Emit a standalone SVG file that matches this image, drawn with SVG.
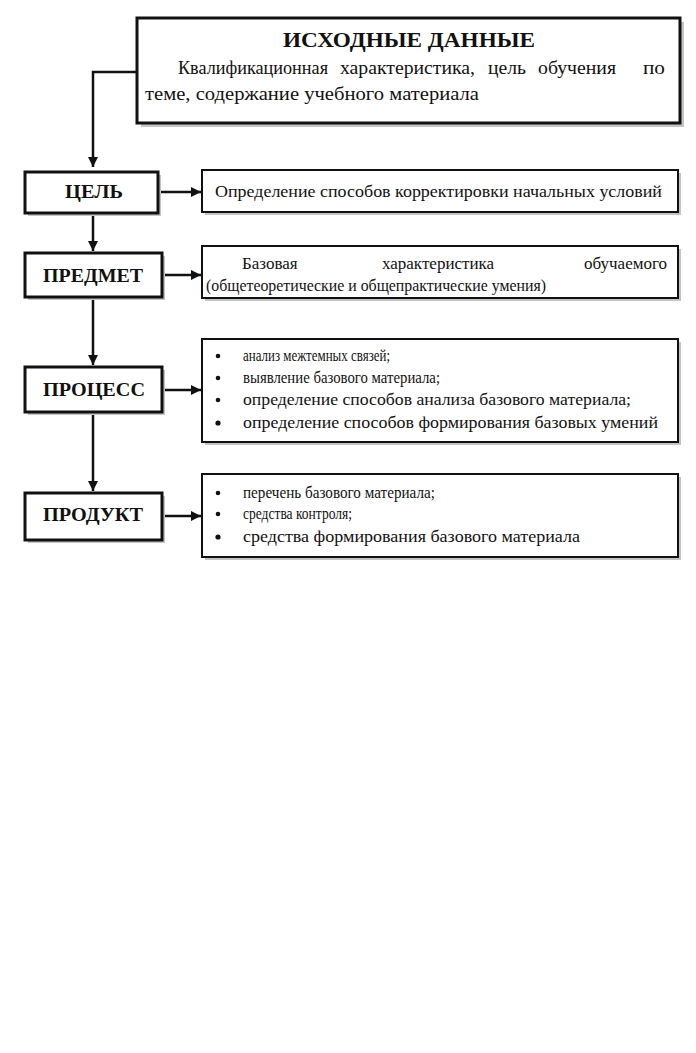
<svg xmlns="http://www.w3.org/2000/svg" width="696" height="1053" viewBox="0 0 696 1053">
<style>
.shadow{fill:#c4c4c4}
.box{fill:#fff;stroke:#111;stroke-width:3}
.rbox{fill:#fff;stroke:#111;stroke-width:2}
.lbl{font-family:"Liberation Serif","Times New Roman",serif;font-weight:bold;font-size:19px;fill:#111;text-anchor:middle}
.t{font-family:"Liberation Serif","Times New Roman",serif;font-size:17px;fill:#111}
.tt{font-family:"Liberation Serif","Times New Roman",serif;font-size:18px;fill:#111}
.title{font-family:"Liberation Serif","Times New Roman",serif;font-weight:bold;font-size:20px;fill:#111;text-anchor:middle}
.conn{fill:none;stroke:#111;stroke-width:2.5}
.dot{fill:#111}
</style>
<defs>
<marker id="arr" viewBox="0 0 10 10" refX="10" refY="5" markerWidth="4" markerHeight="4" orient="auto" markerUnits="strokeWidth">
<path d="M0,0 L10,5 L0,10 z" fill="#111"/>
</marker>
</defs>
<rect width="696" height="1053" fill="#fff"/>

<g id="connectors">
<path class="conn" d="M137,72 H93 V167" marker-end="url(#arr)"/>
<path class="conn" d="M93,213 V251" marker-end="url(#arr)"/>
<path class="conn" d="M93,297 V365" marker-end="url(#arr)"/>
<path class="conn" d="M93,412 V491" marker-end="url(#arr)"/>
<path class="conn" d="M158,192 H201" marker-end="url(#arr)"/>
<path class="conn" d="M162,275 H201" marker-end="url(#arr)"/>
<path class="conn" d="M162,390 H201" marker-end="url(#arr)"/>
<path class="conn" d="M162,516 H201" marker-end="url(#arr)"/>
</g>

<g id="source">
<rect class="shadow" x="141" y="22" width="543" height="105"/>
<rect class="box" x="137" y="18" width="543" height="105"/>
<text class="title" x="409" y="47" textLength="252" lengthAdjust="spacingAndGlyphs">ИСХОДНЫЕ ДАННЫЕ</text>
<text class="tt" x="178" y="74" textLength="150" lengthAdjust="spacingAndGlyphs">Квалификационная</text>
<text class="tt" x="340" y="74" textLength="135" lengthAdjust="spacingAndGlyphs">характеристика,</text>
<text class="tt" x="488" y="74" textLength="38" lengthAdjust="spacingAndGlyphs">цель</text>
<text class="tt" x="538" y="74" textLength="78" lengthAdjust="spacingAndGlyphs">обучения</text>
<text class="tt" x="643" y="74" textLength="22" lengthAdjust="spacingAndGlyphs">по</text>
<text class="tt" x="145" y="100" textLength="334" lengthAdjust="spacingAndGlyphs">теме, содержание учебного материала</text>
</g>

<g id="goal">
<rect class="shadow" x="28" y="175" width="133" height="41"/>
<rect class="box" x="25" y="172" width="133" height="41"/>
<text class="lbl" x="94" y="198" textLength="58" lengthAdjust="spacingAndGlyphs">ЦЕЛЬ</text>
</g>
<g id="goal-desc">
<rect class="shadow" x="205" y="173" width="476" height="42"/>
<rect class="rbox" x="202" y="170" width="476" height="42"/>
<text class="t" x="215" y="197" textLength="447" lengthAdjust="spacingAndGlyphs">Определение способов корректировки начальных условий</text>
</g>

<g id="subject">
<rect class="shadow" x="28" y="256" width="137" height="44"/>
<rect class="box" x="25" y="253" width="137" height="44"/>
<text class="lbl" x="93" y="282" textLength="100" lengthAdjust="spacingAndGlyphs">ПРЕДМЕТ</text>
</g>
<g id="subject-desc">
<rect class="shadow" x="205" y="249" width="476" height="52"/>
<rect class="rbox" x="202" y="246" width="476" height="52"/>
<text class="t" x="242" y="269">Базовая</text>
<text class="t" x="382" y="269">характеристика</text>
<text class="t" x="667" y="269" text-anchor="end">обучаемого</text>
<text class="t" x="206" y="291" textLength="340" lengthAdjust="spacingAndGlyphs">(общетеоретические и общепрактические умения)</text>
</g>

<g id="process">
<rect class="shadow" x="28" y="370" width="137" height="45"/>
<rect class="box" x="25" y="367" width="137" height="45"/>
<text class="lbl" x="94" y="396" textLength="102" lengthAdjust="spacingAndGlyphs">ПРОЦЕСС</text>
</g>
<g id="process-desc">
<rect class="shadow" x="205" y="342" width="476" height="103"/>
<rect class="rbox" x="202" y="339" width="476" height="103"/>
<circle class="dot" cx="218" cy="356" r="2.3"/>
<circle class="dot" cx="218" cy="378" r="2.3"/>
<circle class="dot" cx="218" cy="400" r="2.3"/>
<circle class="dot" cx="218" cy="423" r="2.6"/>
<text class="t" x="243" y="361" textLength="147" lengthAdjust="spacingAndGlyphs">анализ межтемных связей;</text>
<text class="t" x="243" y="383" textLength="197" lengthAdjust="spacingAndGlyphs">выявление базового материала;</text>
<text class="t" x="243" y="405" textLength="388" lengthAdjust="spacingAndGlyphs">определение способов анализа базового материала;</text>
<text class="t" x="243" y="428" textLength="415" lengthAdjust="spacingAndGlyphs">определение способов формирования базовых умений</text>
</g>

<g id="product">
<rect class="shadow" x="28" y="496" width="137" height="47"/>
<rect class="box" x="25" y="493" width="137" height="47"/>
<text class="lbl" x="93" y="521" textLength="100" lengthAdjust="spacingAndGlyphs">ПРОДУКТ</text>
</g>
<g id="product-desc">
<rect class="shadow" x="205" y="477" width="476" height="83"/>
<rect class="rbox" x="202" y="474" width="476" height="83"/>
<circle class="dot" cx="218" cy="493" r="2.3"/>
<circle class="dot" cx="218" cy="514" r="2.3"/>
<circle class="dot" cx="218" cy="537" r="2.6"/>
<text class="t" x="243" y="498" textLength="192" lengthAdjust="spacingAndGlyphs">перечень базового материала;</text>
<text class="t" x="243" y="519" textLength="109" lengthAdjust="spacingAndGlyphs">средства контроля;</text>
<text class="t" x="243" y="542" textLength="337" lengthAdjust="spacingAndGlyphs">средства формирования базового материала</text>
</g>
</svg>
